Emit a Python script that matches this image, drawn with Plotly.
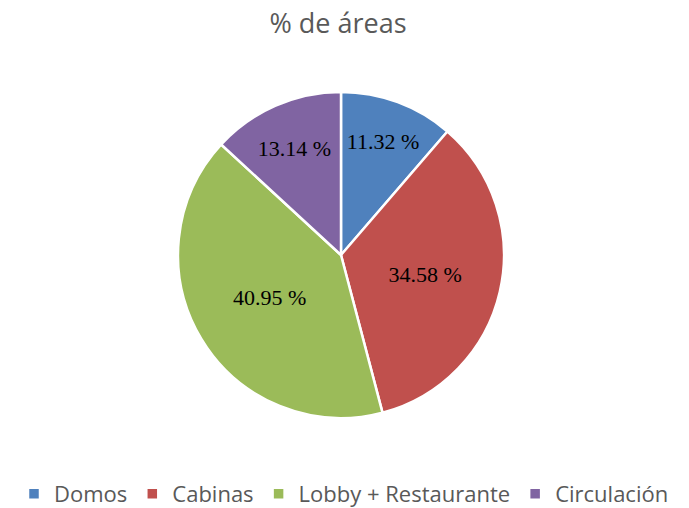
import plotly.graph_objects as go

labels = ["Domos", "Cabinas", "Lobby + Restaurante", "Circulación"]
values = [11.32, 34.58, 40.95, 13.14]
colors = ["#4F81BD", "#C0504D", "#9BBB59", "#8064A2"]

W, H = 689, 508
OFF = 8  # browser body margin
def px(x):
    return (x - OFF) / W
def py(y):
    return 1 - (y - OFF) / H

fig = go.Figure(go.Pie(
    labels=labels,
    values=values,
    sort=False,
    direction="clockwise",
    rotation=0,
    marker=dict(colors=colors, line=dict(color="white", width=2.5)),
    texttemplate="%{value:.2f} %",
    textposition="inside",
    insidetextorientation="horizontal",
    textfont=dict(family="Liberation Serif", size=22, color="black"),
    hoverinfo="label+value",
    domain=dict(x=[px(178), px(504)], y=[py(419), py(91)]),
))

fig.update_layout(
    width=W, height=H,
    margin=dict(l=0, r=0, t=0, b=0),
    paper_bgcolor="white",
    title=dict(text="% de áreas", x=px(338), xanchor="center", y=py(24), yanchor="middle",
               font=dict(family="Open Sans", size=27, color="#595959")),
    legend=dict(orientation="h", x=px(344), xanchor="center", y=py(494), yanchor="middle",
                font=dict(family="Open Sans", size=22, color="#595959"),
                itemwidth=30, tracegroupgap=0),
)

fig.write_html("out.html")
